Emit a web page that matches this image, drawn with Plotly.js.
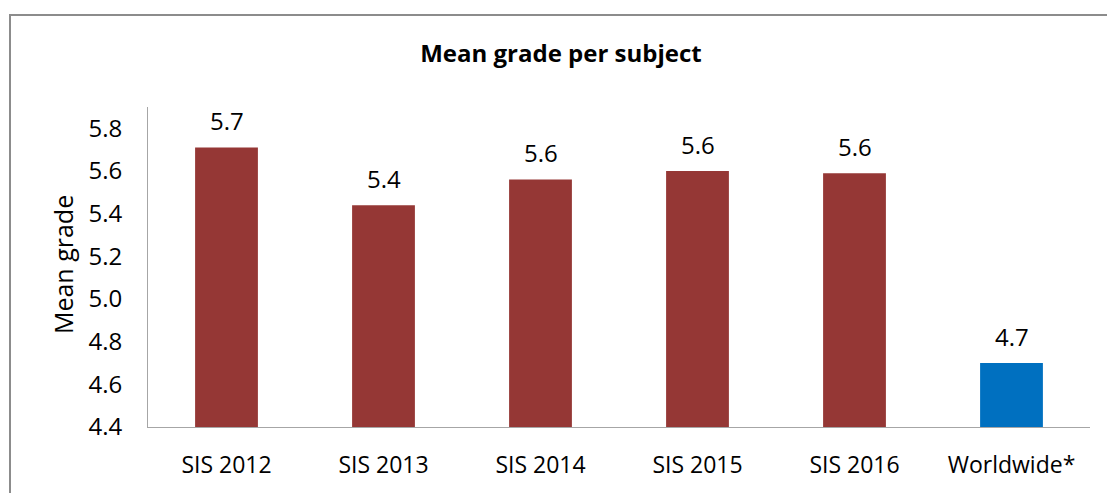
<!DOCTYPE html>
<html>
<head>
<meta charset="utf-8">
<script src="https://cdn.plot.ly/plotly-3.0.1.min.js"></script>
<style>
html,body{margin:0;padding:0;background:#fff;}
#chart{width:1107px;height:493px;}
</style>
</head>
<body>
<div id="chart"></div>
<script>
const categories = ["SIS 2012", "SIS 2013", "SIS 2014", "SIS 2015", "SIS 2016", "Worldwide*"];
const meanGrades = [5.71, 5.44, 5.56, 5.60, 5.59, 4.70];
const barColors = ["#953735", "#953735", "#953735", "#953735", "#953735", "#0070C0"];
const yTickValues = [4.4, 4.6, 4.8, 5.0, 5.2, 5.4, 5.6, 5.8];

const FONT = "Open Sans, sans-serif";

const trace = {
  type: "bar",
  x: categories,
  y: meanGrades,
  marker: {color: barColors},
  hoverinfo: "x+y"
};

const annotations = categories.map((c, i) => ({
  x: c, y: meanGrades[i], xref: "x", yref: "y",
  text: meanGrades[i].toFixed(1),
  showarrow: false, yanchor: "middle", yshift: 27,
  font: {family: FONT, size: 24, color: "#000"}
}));

// y axis title placed as rotated text
annotations.push({
  x: (63 - 148) / 942, xref: "paper", xanchor: "center",
  y: 0.506, yref: "paper", yanchor: "middle",
  text: "Mean grade", textangle: -90, showarrow: false,
  font: {family: FONT, size: 25, color: "#000"}
});

const layout = {
  width: 1107, height: 493,
  margin: {l: 148, r: 17, t: 107, b: 66},
  paper_bgcolor: "#fff", plot_bgcolor: "#fff",
  bargap: 0.6,
  showlegend: false,
  title: {
    text: "<b>Mean grade per subject</b>",
    x: 561 / 1107, xref: "container", xanchor: "center",
    y: 50, yref: "container", yanchor: "middle",
    font: {family: FONT, size: 24, color: "#000"}
  },
  xaxis: {
    type: "category",
    showline: true, linecolor: "#a6a6a6", linewidth: 1,
    ticks: "", showgrid: false, zeroline: false,
    tickfont: {family: FONT, size: 23, color: "#000"},
    ticklabelstandoff: 17
  },
  yaxis: {
    range: [4.4, 5.9],
    tickvals: yTickValues,
    ticktext: yTickValues.map(v => v.toFixed(1)),
    showline: true, linecolor: "#a6a6a6", linewidth: 1,
    ticks: "", showgrid: false, zeroline: false,
    tickfont: {family: FONT, size: 24, color: "#000"},
    ticklabelstandoff: 20
  },
  annotations: annotations,
  shapes: [{
    type: "rect", xref: "paper", yref: "paper",
    x0: (10 - 148) / 942, x1: 1.5,
    y0: -0.5, y1: (427 - 15) / 320,
    line: {color: "#8c8c8c", width: 2},
    fillcolor: "rgba(0,0,0,0)", layer: "below"
  }]
};

Plotly.newPlot("chart", [trace], layout, {displayModeBar: false, staticPlot: true});
</script>
</body>
</html>
